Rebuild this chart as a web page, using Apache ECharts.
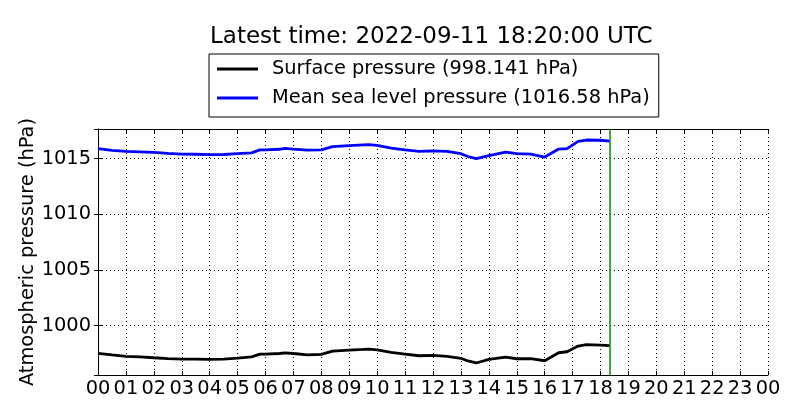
<!DOCTYPE html>
<html>
<head>
<meta charset="utf-8">
<title>Atmospheric pressure</title>
<script src="https://cdn.jsdelivr.net/npm/echarts@6/dist/echarts.min.js"></script>
<style>
  html, body { margin: 0; padding: 0; background: #fff; }
  #chart { width: 800px; height: 420px; }
</style>
</head>
<body>
<div id="chart"></div>
<script>
// hours since 00 UTC
var hours = [0, 0.5, 1, 1.5, 2, 2.5, 3, 3.5, 4, 4.5, 5, 5.5, 5.8, 6, 6.5, 6.7, 7, 7.5, 8, 8.4,
             9, 9.5, 9.7, 10, 10.5, 11, 11.5, 12, 12.5, 13, 13.25, 13.55, 14, 14.6, 15, 15.5,
             16, 16.5, 16.8, 17.2, 17.5, 18, 18.33];
var surface = [997.52, 997.38, 997.25, 997.2, 997.12, 997.05, 997.0, 996.99, 996.98, 997.0,
               997.08, 997.2, 997.45, 997.45, 997.5, 997.55, 997.5, 997.37, 997.43, 997.72,
               997.81, 997.87, 997.9, 997.82, 997.6, 997.45, 997.3, 997.33, 997.25, 997.07,
               996.83, 996.65, 996.98, 997.18, 997.03, 997.05, 996.85, 997.57, 997.66, 998.17,
               998.29, 998.26, 998.2];
var msl = [1015.9, 1015.75, 1015.66, 1015.62, 1015.57, 1015.48, 1015.42, 1015.4, 1015.36, 1015.38,
           1015.45, 1015.52, 1015.8, 1015.8, 1015.85, 1015.93, 1015.87, 1015.78, 1015.8, 1016.08,
           1016.17, 1016.24, 1016.26, 1016.2, 1015.96, 1015.8, 1015.66, 1015.7, 1015.66, 1015.45,
           1015.2, 1015.0, 1015.27, 1015.6, 1015.45, 1015.42, 1015.15, 1015.87, 1015.9, 1016.56,
           1016.68, 1016.66, 1016.58];
var hourLabels = ['00','01','02','03','04','05','06','07','08','09','10','11',
                  '12','13','14','15','16','17','18','19','20','21','22','23','00'];
var latestHour = 18 + 20 / 60;
var seriesNames = ['Surface pressure (998.141 hPa)', 'Mean sea level pressure (1016.58 hPa)'];

var font = 'DejaVu Sans';
var fs = 19.4;
var yMin = 995.57, yMax = 1017.67;

function pairs(xs, ys) {
    return xs.map(function (x, i) { return [x, ys[i]]; });
}

var myChart = echarts.init(document.getElementById('chart'), null, {renderer: 'canvas'});

var option = {
    backgroundColor: '#fff',
    animation: false,
    textStyle: { fontFamily: font },
    title: {
        text: 'Latest time: 2022-09-11 18:20:00 UTC',
        left: 210,
        top: 23,
        padding: 0,
        textStyle: { fontFamily: font, fontSize: 23, fontWeight: 'normal', color: '#000', lineHeight: 28 }
    },
    legend: {
        data: seriesNames,
        orient: 'vertical',
        left: 209,
        top: 54,
        padding: [4, 9, 8, 8],
        borderColor: '#000',
        borderWidth: 1,
        icon: 'rect',
        itemWidth: 41,
        itemHeight: 3,
        itemGap: 7,
        textStyle: { fontFamily: font, fontSize: fs, color: '#000', lineHeight: 22, padding: [0, 0, 0, 9] }
    },
    grid: { left: 98, right: 32, top: 129, bottom: 45 },
    xAxis: [{
        type: 'value',
        min: 0, max: 24, interval: 1,
        axisLine: { show: true, lineStyle: { color: '#000', width: 1 } },
        axisTick: { show: true, inside: true, length: 4, lineStyle: { color: '#000' } },
        axisLabel: {
            margin: 4, color: '#000', fontFamily: font, fontSize: fs,
            formatter: function (v) { return hourLabels[Math.round(v)]; }
        },
        splitLine: { show: true, lineStyle: { color: '#000', width: 1, type: [1, 3] } }
    }, {
        type: 'value', position: 'top',
        min: 0, max: 24, interval: 1,
        axisLine: { show: true, lineStyle: { color: '#000', width: 1 } },
        axisTick: { show: true, inside: true, length: 4, lineStyle: { color: '#000' } },
        axisLabel: { show: false },
        splitLine: { show: false }
    }],
    yAxis: [{
        type: 'value',
        min: yMin, max: yMax,
        splitNumber: 4, minInterval: 5, maxInterval: 5,
        name: 'Atmospheric pressure (hPa)',
        nameLocation: 'middle',
        nameGap: 61,
        nameMoveOverlap: false,
        nameTextStyle: { fontFamily: font, fontSize: fs, color: '#000' },
        axisLine: { show: true, lineStyle: { color: '#000', width: 1 } },
        axisTick: { show: true, inside: true, length: 4, lineStyle: { color: '#000' } },
        axisLabel: {
            margin: 7, color: '#000', fontFamily: font, fontSize: fs,
            showMinLabel: false, showMaxLabel: false,
            formatter: function (v) { return String(Math.round(v)); }
        },
        splitLine: { show: true, lineStyle: { color: '#000', width: 1, type: [1, 3] } }
    }, {
        type: 'value', position: 'right',
        min: yMin, max: yMax,
        splitNumber: 4, minInterval: 5, maxInterval: 5,
        axisLine: { show: true, lineStyle: { color: '#000', width: 1 } },
        axisTick: { show: true, inside: true, length: 4, lineStyle: { color: '#000' } },
        axisLabel: { show: false },
        splitLine: { show: false }
    }],
    series: [{
        name: seriesNames[0],
        type: 'line',
        data: pairs(hours, surface),
        symbol: 'none',
        lineStyle: { color: '#000', width: 2.8 },
        itemStyle: { color: '#000' }
    }, {
        name: seriesNames[1],
        type: 'line',
        data: pairs(hours, msl),
        symbol: 'none',
        lineStyle: { color: '#0000ff', width: 2.8 },
        itemStyle: { color: '#0000ff' },
        markLine: {
            silent: true,
            symbol: ['none', 'none'],
            label: { show: false },
            lineStyle: { color: '#009000', width: 1.5, type: 'solid', opacity: 1 },
            data: [{ xAxis: latestHour, lineStyle: { color: '#009000' } }]
        }
    }]
};
myChart.setOption(option);
</script>
</body>
</html>
